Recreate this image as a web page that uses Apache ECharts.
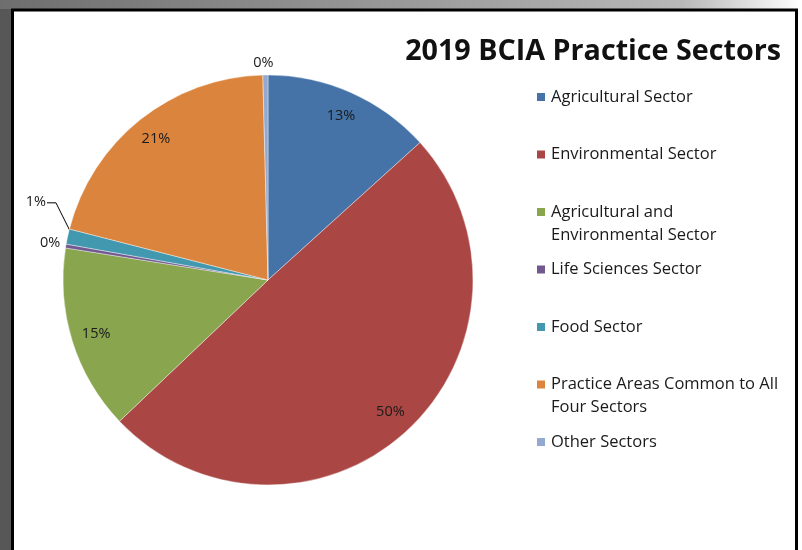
<!DOCTYPE html>
<html>
<head>
<meta charset="utf-8">
<script src="https://cdn.jsdelivr.net/npm/echarts@6/dist/echarts.min.js"></script>
<style>
html,body{margin:0;padding:0;background:#fff;}
#c{width:802px;height:550px;}
</style>
</head>
<body>
<div id="c"></div>
<script>
// ---- data ----
const titleText = '2019 BCIA Practice Sectors';
const names = [
  'Agricultural Sector',
  'Environmental Sector',
  'Agricultural and Environmental Sector',
  'Life Sciences Sector',
  'Food Sector',
  'Practice Areas Common to All Four Sectors',
  'Other Sectors'
];
const legendLabels = [
  'Agricultural Sector',
  'Environmental Sector',
  'Agricultural and\nEnvironmental Sector',
  'Life Sciences Sector',
  'Food Sector',
  'Practice Areas Common to All\nFour Sectors',
  'Other Sectors'
];
const values = [13.3, 49.6, 14.6, 0.3, 1.2, 20.6, 0.4];

// ---- style ----
const colors = ['#4572A7', '#AA4643', '#89A54E', '#71588F', '#4198AF', '#DB843D', '#93A9CF'];
const FONT = 'Open Sans';
const center = [268, 280];
const R = 205;
const labelRadius = 177;
const legendIconY0 = 97, legendStep = 57.5, legendLineH = 23;

const fmt = p => Math.round(p.percent) + '%';
const small = v => v < 2;

const realData = values.map((v, i) => ({
  value: v, name: names[i],
  label: { show: small(v) },
  labelLine: { show: i === 4 }
}));
const ghostData = values.map((v, i) => ({
  value: v, name: names[i],
  label: { show: !small(v) }
}));

// outside-label placement relative to each slice's bounding rect
function outsideLayout(p) {
  const r = p.rect;
  if (p.dataIndex === 6) {
    return { x: r.x + r.width / 2 - 2, y: r.y - 4, align: 'center', verticalAlign: 'bottom' };
  }
  if (p.dataIndex === 3) {
    return { x: r.x - 5, y: r.y - 1, align: 'right', verticalAlign: 'middle' };
  }
  if (p.dataIndex === 4) {
    return {
      x: r.x - 20, y: r.y - 27, align: 'right', verticalAlign: 'middle',
      labelLinePoints: [[r.x - 19, r.y - 26], [r.x - 10, r.y - 26], [r.x + 4, r.y + 2]]
    };
  }
}

const legends = names.map((n, i) => {
  const lines = legendLabels[i].split('\n').length;
  const text = lines > 1 ? '\n' + legendLabels[i] : legendLabels[i];
  const boxH = (lines > 1 ? 3 : 1) * legendLineH;
  return {
    data: [n],
    orient: 'vertical',
    left: 535,
    top: legendIconY0 + i * legendStep - boxH / 2,
    padding: 0,
    itemWidth: 10,
    itemHeight: 10,
    icon: 'rect',
    selectedMode: false,
    formatter: () => text,
    textStyle: { fontFamily: FONT, fontSize: 16.5, color: '#1a1a1a', lineHeight: legendLineH }
  };
});

const chart = echarts.init(document.getElementById('c'), null, { renderer: 'canvas' });
chart.setOption({
  animation: false,
  backgroundColor: '#ffffff',
  color: colors,
  title: {
    text: titleText,
    right: 21,
    top: 37,
    padding: 0,
    textStyle: { fontFamily: FONT, fontSize: 28.7, fontWeight: 'bold', color: '#111' }
  },
  legend: legends,
  graphic: [
    { type: 'rect', z: -10, shape: { x: 0, y: 0, width: 11, height: 550 }, style: { fill: '#575757' } },
    { type: 'rect', z: -10, shape: { x: 0, y: 0, width: 802, height: 9 },
      style: { fill: new echarts.graphic.LinearGradient(0, 0, 1, 0, [
        { offset: 0, color: '#6e6e6e' }, { offset: 0.85, color: '#b8b8b8' }, { offset: 1, color: '#ffffff' }]) } },
    { type: 'rect', z: -5, shape: { x: 12.5, y: 10, width: 784, height: 600 },
      style: { fill: '#ffffff', stroke: '#000', lineWidth: 3 } }
  ],
  series: [
    {
      type: 'pie',
      center: center,
      radius: [0, R],
      startAngle: 90,
      clockwise: true,
      avoidLabelOverlap: false,
      silent: true,
      data: realData,
      itemStyle: { borderColor: '#fff', borderWidth: 0.4 },
      label: { position: 'outside', formatter: fmt, fontFamily: FONT, fontSize: 14.5, color: '#1a1a1a', distanceToLabelLine: 2 },
      labelLine: { length: 6, length2: 6, lineStyle: { color: '#000', width: 1 } },
      labelLayout: outsideLayout
    },
    {
      type: 'pie',
      center: center,
      radius: [0, labelRadius * 2],
      startAngle: 90,
      clockwise: true,
      silent: true,
      z: 5,
      data: ghostData,
      itemStyle: { color: 'rgba(0,0,0,0)', borderWidth: 0 },
      label: { position: 'inside', formatter: fmt, fontFamily: FONT, fontSize: 14.5, color: '#1a1a1a' },
      labelLine: { show: false },
      emphasis: { disabled: true }
    }
  ]
});
</script>
</body>
</html>
